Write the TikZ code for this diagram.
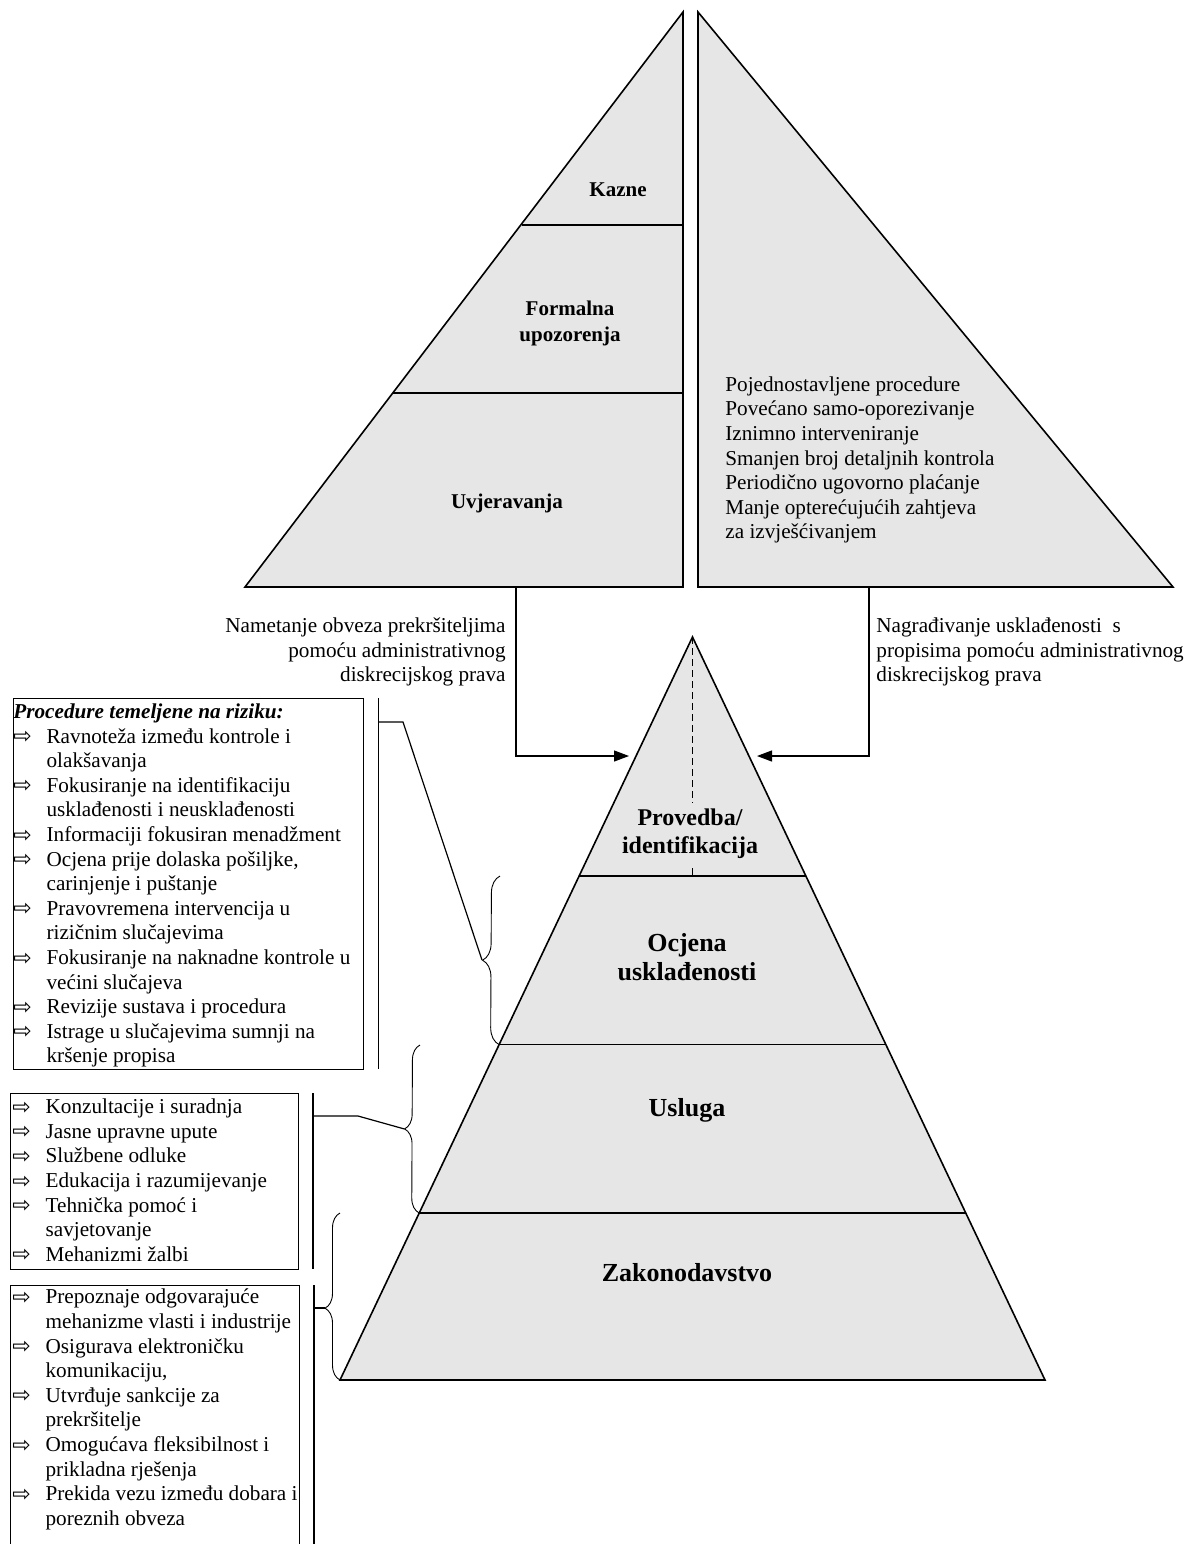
\documentclass[tikz,border=0pt]{standalone}
\usepackage{fontspec}
\setmainfont{Liberation Serif}
\newfontfamily\arrowfont{DejaVu Sans}
\usetikzlibrary{arrows.meta,positioning,calc,decorations.pathreplacing}
\definecolor{pyrgray}{HTML}{E6E6E6}
\newcommand{\bularrow}{\makebox[16.6pt][l]{\arrowfont\fontsize{11}{12}\selectfont\raisebox{-0.3pt}{⇨}}}
\newcommand{\bulskip}{\hspace*{16.6pt}}

\begin{document}
\begin{tikzpicture}[x=0.5pt,y=-0.5pt,>={Triangle[length=7.5pt,width=5.5pt]},
 layer/.style={draw,fill=pyrgray,line width=0.8pt},
 sep/.style={line width=0.8pt},
 lvl/.style={font=\fontsize{13}{14.5}\selectfont\bfseries,align=center,inner sep=0pt},
 toplbl/.style={font=\fontsize{10.5}{13}\selectfont\bfseries,align=center,inner sep=0pt},
 txt/.style={font=\fontsize{10.6}{12.3}\selectfont,inner sep=0pt},
 listbox/.style={draw,line width=0.6pt,inner sep=0pt,anchor=north west},
 lnk/.style={line width=0.6pt},
 curly/.style={decorate,line width=0.45pt}]
\useasboundingbox (0,0) rectangle (1186,1544);

\coordinate (la) at (683,12);
\coordinate (lb) at (245,587);
\coordinate (lc) at (683,587);
\filldraw[layer] (lb) -- (la) -- (lc) -- cycle;
\draw[sep] (521.5,225) -- (683,225);
\draw[sep] (393,393) -- (683,393);
\node[toplbl] (kazne) at (618,190) {Kazne};
\node[toplbl] (formal) at (570,323) {Formalna\\upozorenja};
\node[toplbl] (uvjer) at (507,503) {Uvjeravanja};

\coordinate (ra) at (698,12);
\coordinate (rb) at (698,587);
\coordinate (rc) at (1173,587);
\filldraw[layer] (ra) -- (rc) -- (rb) -- cycle;
\node[txt,align=left,anchor=west] (benefits) at (725,460) {Pojednostavljene procedure\\Povećano samo-oporezivanje\\Iznimno interveniranje\\Smanjen broj detaljnih kontrola\\Periodično ugovorno plaćanje\\Manje opterećujućih zahtjeva\\za izvješćivanjem};

\node[txt,align=right,anchor=east] (impose) at (506,652) {Nametanje obveza prekršiteljima\\pomoću administrativnog\\diskrecijskog prava};
\node[txt,align=left,anchor=west] (reward) at (876,652) {Nagrađivanje usklađenosti\ \ s\\propisima pomoću administrativnog\\diskrecijskog prava};

\coordinate (apex) at (692.5,637);
\coordinate (bl) at (340,1380);
\coordinate (br) at (1045,1380);
\filldraw[layer] (apex) -- (br) -- (bl) -- cycle;
\draw[sep] (579.1,876) -- (805.9,876);
\draw[sep] (499.1,1044.6) -- (885.9,1044.6);
\draw[sep] (419.2,1213) -- (965.8,1213);
\draw[line width=0.5pt,dash pattern=on 3.5pt off 2pt] (apex) -- (692.5,876);
\node[lvl,font=\fontsize{12}{14}\selectfont\bfseries,fill=pyrgray,inner ysep=3pt] (prov) at (690,834) {Provedba/\\identifikacija};
\node[lvl] (ocjena) at (687,957) {Ocjena\\usklađenosti};
\node[lvl] (usluga) at (687,1110) {Usluga};
\node[lvl] (zakon) at (687,1273) {Zakonodavstvo};

\coordinate (lout) at (516,587);
\coordinate (lin) at (629,756);
\draw[lnk,->] (lout) |- (lin);
\coordinate (rout) at (869,587);
\coordinate (rin) at (757,756);
\draw[lnk,->] (rout) |- (rin);

\node[listbox,minimum width=175pt,minimum height=185.5pt] (box1) at (12.7,698) {};
\node[txt,align=left,anchor=west] (list1) at (13,885.5) {\textbf{\textit{Procedure temeljene na riziku:}}\\
\bularrow Ravnoteža između kontrole i\\
\bulskip olakšavanja\\
\bularrow Fokusiranje na identifikaciju\\
\bulskip usklađenosti i neusklađenosti\\
\bularrow Informaciji fokusiran menadžment\\
\bularrow Ocjena prije dolaska pošiljke,\\
\bulskip carinjenje i puštanje\\
\bularrow Pravovremena intervencija u\\
\bulskip rizičnim slučajevima\\
\bularrow Fokusiranje na naknadne kontrole u\\
\bulskip većini slučajeva\\
\bularrow Revizije sustava i procedura\\
\bularrow Istrage u slučajevima sumnji na\\
\bulskip kršenje propisa};

\node[listbox,minimum width=143.85pt,minimum height=88pt] (box2) at (10,1093) {};
\node[txt,align=left,anchor=west] (list2) at (12,1180.5) {\bularrow Konzultacije i suradnja\\
\bularrow Jasne upravne upute\\
\bularrow Službene odluke\\
\bularrow Edukacija i razumijevanje\\
\bularrow Tehnička pomoć i\\
\bulskip savjetovanje\\
\bularrow Mehanizmi žalbi};

\node[listbox,minimum width=144.5pt,minimum height=140pt] (box3) at (10,1285) {};
\node[txt,align=left,anchor=west] (list3) at (12,1409.5) {\bularrow Prepoznaje odgovarajuće\\
\bulskip mehanizme vlasti i industrije\\
\bularrow Osigurava elektroničku\\
\bulskip komunikaciju,\\
\bularrow Utvrđuje sankcije za\\
\bulskip prekršitelje\\
\bularrow Omogućava fleksibilnost i\\
\bulskip prikladna rješenja\\
\bularrow Prekida vezu između dobara i\\
\bulskip poreznih obveza};

\coordinate (bar1t) at (378.3,698);
\coordinate (bar1b) at (378.3,1069);
\draw[lnk] (bar1t) -- (bar1b);
\coordinate (bar2t) at (313,1093);
\coordinate (bar2b) at (313,1269);
\draw[lnk] (bar2t) -- (bar2b);
\coordinate (bar3t) at (314,1285);
\coordinate (bar3b) at (314,1560);
\draw[lnk] (bar3t) -- (bar3b);

\draw[curly,decoration={brace,amplitude=8.5pt}] (499.1,1044.6) -- (500,876);
\draw[curly,decoration={brace,amplitude=7.5pt}] (419.2,1213) -- (420,1045);
\draw[curly,decoration={brace,amplitude=7.5pt,aspect=0.43}] (340,1380) -- (340,1213);
\coordinate (tip1) at (482,960);
\coordinate (tip2) at (404.5,1129);
\coordinate (tip3) at (325,1308);

\draw[lnk] (378.3,722) -- (403,722) -- (tip1);
\draw[lnk] (313,1116) -- (358,1116) -- (tip2);
\draw[lnk] (314,1308) -- (tip3);
\end{tikzpicture}
\end{document}
